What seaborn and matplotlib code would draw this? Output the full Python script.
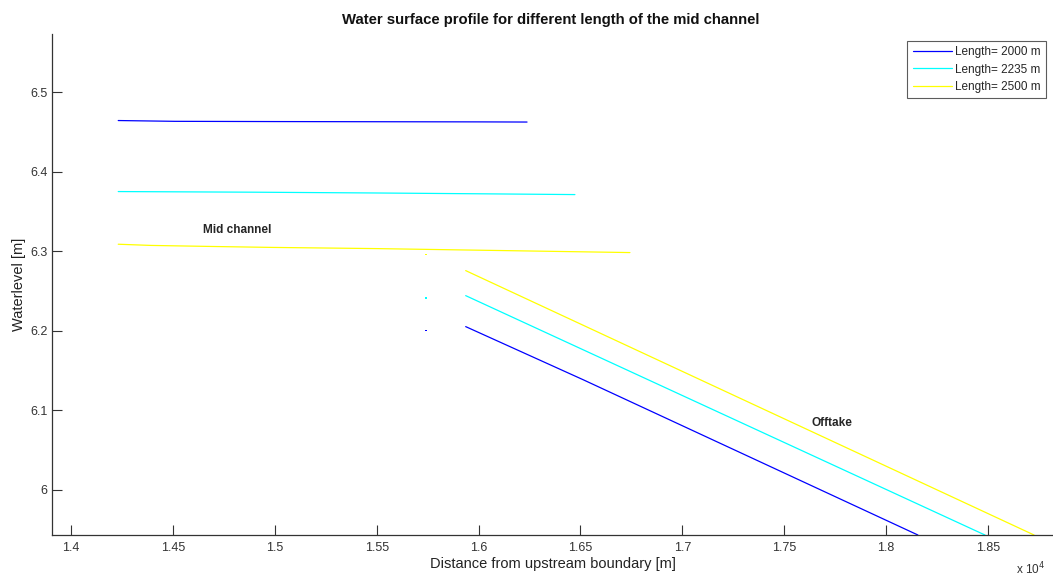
import numpy as np
import pandas as pd
import matplotlib
matplotlib.use("Agg")
import matplotlib.pyplot as plt
import seaborn as sns
from matplotlib.ticker import FuncFormatter

# Mid channel (upper, nearly flat) profiles
mid_x_2000 = [14232, 14510, 15000, 15500, 16000, 16238]
mid_y_2000 = [6.4647, 6.4637, 6.4634, 6.4632, 6.4630, 6.4628]
mid_x_2235 = [14232, 14898, 15500, 16000, 16473]
mid_y_2235 = [6.3753, 6.3745, 6.3735, 6.3725, 6.3715]
mid_x_2500 = [14232, 14393, 14687, 14986, 15500, 16000, 16743]
mid_y_2500 = [6.3090, 6.3075, 6.3062, 6.3050, 6.3035, 6.3015, 6.2985]

# Offtake (lower, falling) profiles
off_x_2000 = [15937, 16513, 18156]
off_y_2000 = [6.2053, 6.1385, 5.9430]
off_x_2235 = [15937, 18485]
off_y_2235 = [6.2443, 5.9430]
off_x_2500 = [15937, 18726]
off_y_2500 = [6.2758, 5.9430]

# single stray points near the junction
dot_x = [15741, 15741, 15741]
dot_y = [6.2003, 6.2409, 6.2960]

labels = ["Length= 2000 m", "Length= 2235 m", "Length= 2500 m"]
colors = ["#0000ff", "#00ffff", "#ffff00"]

sns.set_style("white")
plt.rcParams['font.family'] = ['Liberation Sans', 'DejaVu Sans']

fig = plt.figure(figsize=(10.53, 5.76), dpi=100)
ax = fig.add_axes([52 / 1053, 1 - 535 / 576, 1 - 52 / 1053, (535 - 33.7) / 576])

mids = [(mid_x_2000, mid_y_2000), (mid_x_2235, mid_y_2235), (mid_x_2500, mid_y_2500)]
offs = [(off_x_2000, off_y_2000), (off_x_2235, off_y_2235), (off_x_2500, off_y_2500)]

for (mx, my), (ox, oy), col, lab in zip(mids, offs, colors, labels):
    sns.lineplot(x=mx, y=my, ax=ax, color=col, linewidth=0.9, sort=False, label=lab)
    sns.lineplot(x=ox, y=oy, ax=ax, color=col, linewidth=0.9, sort=False, legend=False)

ax.scatter(dot_x, dot_y, c=colors, s=1.5, marker="s", linewidths=0)

ax.set_xlim(13907, 18819)
ax.set_ylim(5.943, 6.574)
ax.set_xticks([14000 + 500 * i for i in range(10)])
ax.set_yticks([6.0, 6.1, 6.2, 6.3, 6.4, 6.5])
ax.xaxis.set_major_formatter(FuncFormatter(lambda v, p: f"{v / 1e4:g}"))
ax.yaxis.set_major_formatter(FuncFormatter(lambda v, p: f"{v:g}"))
ax.tick_params(direction="in", length=7, width=0.8, labelsize=9, colors="#333333",
               left=True, bottom=True)
ax.tick_params(axis="y", pad=3)
ax.tick_params(axis="x", pad=5)

for s in ["top", "right"]:
    ax.spines[s].set_visible(False)
for s in ["left", "bottom"]:
    ax.spines[s].set_color("#333333")
    ax.spines[s].set_linewidth(0.9)

fig.text(551 / 1053, 1 - 20 / 576, "Water surface profile for different length of the mid channel",
         fontsize=10.7, fontweight="bold", ha="center", va="center", color="#111111")
ax.set_xlabel("Distance from upstream boundary [m]", fontsize=10.5, labelpad=2, color="#222222")
ax.set_ylabel("Waterlevel [m]", fontsize=10.5, labelpad=3, color="#222222")

ax.text(14815, 6.3275, "Mid channel", fontsize=8.5, fontweight="bold", ha="center", va="center")
ax.text(17734, 6.0844, "Offtake", fontsize=8.5, fontweight="bold", ha="center", va="center")
fig.text(1045 / 1053, 1 - 569 / 576, r"x 10$^4$", fontsize=8.5, ha="right", va="center", color="#333333")

leg = ax.legend(loc="upper right", bbox_to_anchor=(1046 / 1053, 1 - 41 / 576),
                bbox_transform=fig.transFigure, fontsize=8.5, frameon=True, fancybox=False,
                borderpad=0.45, handlelength=3.3, labelspacing=0.45, handletextpad=0.3,
                borderaxespad=0)
leg.get_frame().set_edgecolor("#333333")
leg.get_frame().set_linewidth(0.8)

fig.savefig("out.png", dpi=100)
